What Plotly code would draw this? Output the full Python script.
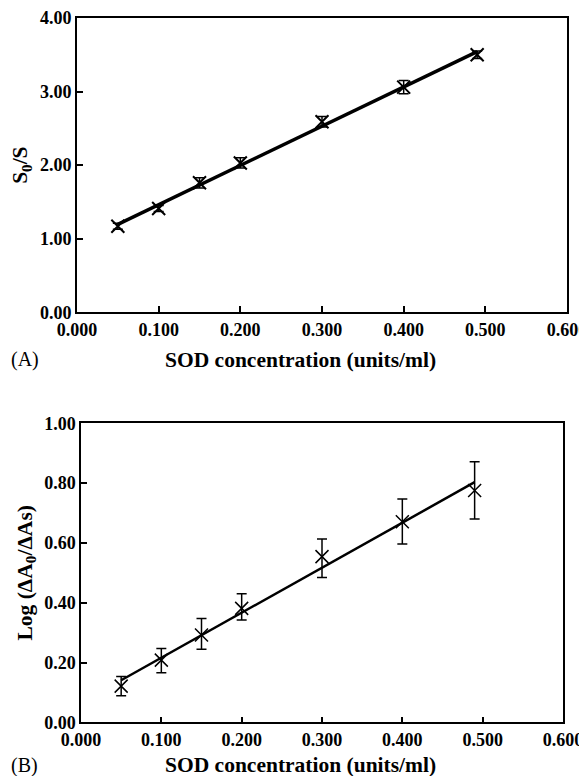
import numpy as np
import plotly.graph_objects as go

# ---- data ----
sod_conc = [0.05, 0.10, 0.15, 0.20, 0.30, 0.40, 0.49]

ratio_a = [1.17, 1.41, 1.76, 2.03, 2.59, 3.06, 3.50]
ratio_a_err = [0.04, 0.04, 0.07, 0.07, 0.07, 0.09, 0.05]

log_b = [0.121, 0.208, 0.292, 0.381, 0.554, 0.671, 0.775]
log_b_err_plus = [0.032, 0.039, 0.055, 0.049, 0.059, 0.076, 0.096]
log_b_err_minus = [0.032, 0.042, 0.048, 0.039, 0.070, 0.075, 0.095]

x_ticks = [0.0, 0.1, 0.2, 0.3, 0.4, 0.5, 0.6]
y_ticks_a = [0.0, 1.0, 2.0, 3.0, 4.0]
y_ticks_b = [0.0, 0.2, 0.4, 0.6, 0.8, 1.0]

# linear fits
xa = np.array(sod_conc)
ka, ba = np.polyfit(xa, np.array(ratio_a), 1)
kb, bb = np.polyfit(xa, np.array(log_b), 1)
fit_x = [sod_conc[0], sod_conc[-1]]

FONT = "Liberation Serif"
# the page body has an 8px default margin: size the figure so it fills the window
OFF = 8
W, H = 587 - OFF, 776 - OFF


def px(x):
    return (x - OFF) / W


def py(y):
    return 1 - (y - OFF) / H


fig = go.Figure()

# Panel A
fig.add_trace(go.Scatter(x=fit_x, y=[ka * v + ba for v in fit_x], mode="lines",
                         line=dict(color="black", width=3.5), xaxis="x", yaxis="y",
                         showlegend=False, hoverinfo="skip"))
fig.add_trace(go.Scatter(x=sod_conc, y=ratio_a, mode="markers",
                         marker=dict(symbol="x-thin-open", size=13, color="black",
                                     line=dict(color="black", width=2)),
                         error_y=dict(type="data", array=ratio_a_err, color="black", thickness=1.5, width=5),
                         xaxis="x", yaxis="y", showlegend=False))

# Panel B
fig.add_trace(go.Scatter(x=fit_x, y=[kb * v + bb for v in fit_x], mode="lines",
                         line=dict(color="black", width=2.5), xaxis="x2", yaxis="y2",
                         showlegend=False, hoverinfo="skip"))
fig.add_trace(go.Scatter(x=sod_conc, y=log_b, mode="markers",
                         marker=dict(symbol="x-thin-open", size=13, color="black",
                                     line=dict(color="black", width=1.5)),
                         error_y=dict(type="data", symmetric=False, array=log_b_err_plus,
                                      arrayminus=log_b_err_minus, color="black", thickness=1.5, width=5),
                         xaxis="x2", yaxis="y2", showlegend=False))

tickfont = dict(family=FONT, size=18, color="black", weight="bold")
titlefont = dict(family=FONT, size=21.5, color="black", weight="bold")

common_x = dict(range=[0, 0.6], tickvals=x_ticks, tickformat=".3f", ticks="inside", ticklen=6,
                tickwidth=1.5, tickcolor="black", showline=True, linecolor="black", mirror=True,
                showgrid=False, zeroline=False, tickfont=tickfont, automargin=False,
                ticklabeloverflow="allow")
common_y = dict(ticks="inside", ticklen=6, tickwidth=1.5, tickcolor="black", showline=True,
                linecolor="black", mirror=True, showgrid=False, zeroline=False,
                tickfont=tickfont, tickformat=".2f", automargin=False)

fig.update_layout(
    template="none",
    width=W, height=H,
    margin=dict(l=0, r=0, t=0, b=0, autoexpand=False),
    paper_bgcolor="white", plot_bgcolor="white",
    xaxis=dict(domain=[px(77), px(567)], anchor="y", linewidth=2, **common_x),
    yaxis=dict(domain=[py(312.3), py(18)], anchor="x", range=[0, 4], tickvals=y_ticks_a,
               linewidth=2,
               title=dict(text="S<sub>0</sub>/S", font=titlefont, standoff=6), **common_y),
    xaxis2=dict(domain=[px(81), px(563)], anchor="y2", linewidth=1.5, **common_x),
    yaxis2=dict(domain=[py(722.3), py(423.3)], anchor="x2", range=[0, 1], tickvals=y_ticks_b,
                linewidth=1.5,
                title=dict(text="Log (ΔA<sub>0</sub>/ΔAs)", font=titlefont, standoff=6), **common_y),
    annotations=[
        dict(text="SOD concentration (units/ml)", x=px(301), y=py(360), xref="paper", yref="paper",
             showarrow=False, font=titlefont, xanchor="center", yanchor="middle"),
        dict(text="SOD concentration (units/ml)", x=px(301), y=py(765), xref="paper", yref="paper",
             showarrow=False, font=titlefont, xanchor="center", yanchor="middle"),
        dict(text="(A)", x=px(9), y=py(360), xref="paper", yref="paper", showarrow=False,
             font=dict(family=FONT, size=20, color="black"), xanchor="left", yanchor="middle"),
        dict(text="(B)", x=px(9), y=py(765), xref="paper", yref="paper", showarrow=False,
             font=dict(family=FONT, size=20, color="black"), xanchor="left", yanchor="middle"),
    ],
)

fig.write_html("out.html")
